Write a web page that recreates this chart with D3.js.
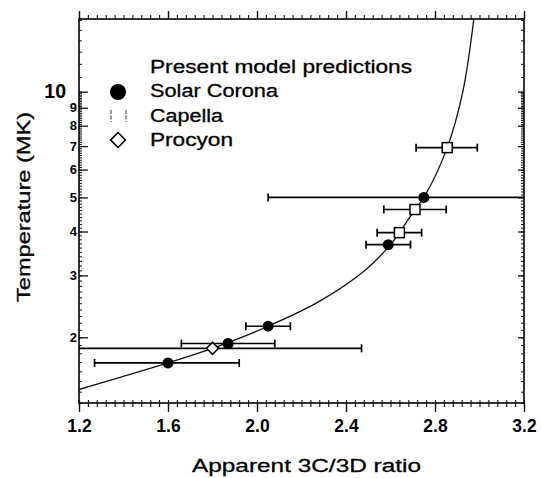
<!DOCTYPE html>
<html><head><meta charset="utf-8">
<script src="https://cdn.jsdelivr.net/npm/d3@7"></script>
<style>
html,body{margin:0;padding:0;background:#fff;}
svg{display:block;font-family:"Liberation Sans",Arial,sans-serif;}
</style></head>
<body><svg id="c" width="541" height="478"></svg>
<script>
// ---- data ----
const xTickValues = [1.2, 1.6, 2.0, 2.4, 2.8, 3.2];
const xTickLabels = ["1.2", "1.6", "2.0", "2.4", "2.8", "3.2"];
const yTickValues = [2, 3, 4, 5, 6, 7, 8, 9, 10];
const yTickLabels = ["2", "3", "4", "5", "6", "7", "8", "9", "10"];

const solarX   = [1.60, 1.87, 2.05, 2.59, 2.75];
const solarY   = [1.69, 1.92, 2.15, 3.67, 5.0];
const solarXLo = [1.27, 1.66, 1.95, 2.49, 2.05];
const solarXHi = [1.92, 2.08, 2.15, 2.69, 3.30];

const capellaX   = [2.64, 2.71, 2.855];
const capellaY   = [3.97, 4.62, 6.93];
const capellaXLo = [2.54, 2.57, 2.715];
const capellaXHi = [2.74, 2.85, 2.99];

const procyonX   = [1.80];
const procyonY   = [1.86];
const procyonXLo = [1.10];
const procyonXHi = [2.47];

const modelX = [1.2, 1.6, 1.8, 1.87, 2.05, 2.28, 2.49, 2.6, 2.64, 2.71, 2.75, 2.855, 2.925, 2.975];
const modelY = [1.42, 1.69, 1.86, 1.93, 2.15, 2.53, 3.12, 3.67, 3.97, 4.62, 5.0, 6.93, 10, 16.2];

const legendTitle = "Present model predictions";
const legendNames = ["Solar Corona", "Capella", "Procyon"];
const xTitle = "Apparent 3C/3D ratio";
const yTitle = "Temperature (MK)";

// ---- layout ----
const L = 79, R = 524, T = 19, B = 403;
const svg = d3.select("#c");
const x = d3.scaleLinear().domain([1.2, 3.2]).range([L, R]);
const y = d3.scaleLog().domain([1.3, 16.1]).range([B, T]);
const FONT = "'Liberation Sans',Arial,sans-serif";

svg.append("defs").append("clipPath").attr("id","clip")
  .append("rect").attr("x",L).attr("y",T).attr("width",R-L).attr("height",B-T);

// frame
svg.append("rect").attr("x",L).attr("y",T).attr("width",R-L).attr("height",B-T)
  .attr("fill","none").attr("stroke","#000").attr("stroke-width",1.6);

const ink = "#111";
const xMinor = d3.range(0, 51).map(i => 1.2 + i*0.04);
// bottom
svg.append("g").attr("transform",`translate(0,${B})`)
  .call(d3.axisBottom(x).tickValues(xMinor).tickSize(4).tickFormat(""))
  .call(g => g.select(".domain").remove())
  .selectAll("line").attr("stroke",ink).attr("stroke-width",1.1);
svg.append("g").attr("transform",`translate(0,${B})`)
  .call(d3.axisBottom(x).tickValues(xMinor).tickSize(-3).tickFormat(""))
  .call(g => g.select(".domain").remove())
  .selectAll("line").attr("stroke",ink).attr("stroke-width",1.1);
const xb = svg.append("g").attr("transform",`translate(0,${B})`)
  .call(d3.axisBottom(x).tickValues(xTickValues).tickSize(9).tickPadding(8)
        .tickFormat((d,i) => xTickLabels[i]));
xb.select(".domain").remove();
xb.selectAll("line").attr("stroke",ink).attr("stroke-width",1.4);
xb.selectAll("text").attr("font-size",17.5).attr("font-weight","bold").attr("fill","#000")
  .attr("font-family",FONT);
// top
svg.append("g").attr("transform",`translate(0,${T})`)
  .call(d3.axisTop(x).tickValues(xMinor).tickSize(4).tickFormat(""))
  .call(g => g.select(".domain").remove())
  .selectAll("line").attr("stroke",ink).attr("stroke-width",1.1);
svg.append("g").attr("transform",`translate(0,${T})`)
  .call(d3.axisTop(x).tickValues(xTickValues).tickSize(8).tickFormat(""))
  .call(g => g.select(".domain").remove())
  .selectAll("line").attr("stroke",ink).attr("stroke-width",1.4);

// y minor ticks
const yMinor = d3.range(13, 100).map(i => i/10).concat(d3.range(10, 17).map(d => d));
svg.append("g").attr("transform",`translate(${L},0)`)
  .call(d3.axisRight(y).tickValues(yMinor).tickSize(3).tickFormat(""))
  .call(g => g.select(".domain").remove())
  .selectAll("line").attr("stroke",ink).attr("stroke-width",1);
svg.append("g").attr("transform",`translate(${R},0)`)
  .call(d3.axisLeft(y).tickValues(yMinor).tickSize(3).tickFormat(""))
  .call(g => g.select(".domain").remove())
  .selectAll("line").attr("stroke",ink).attr("stroke-width",1);
svg.append("g").attr("transform",`translate(${L},0)`)
  .call(d3.axisRight(y).tickValues(yTickValues).tickSize(9).tickFormat(""))
  .call(g => g.select(".domain").remove())
  .selectAll("line").attr("stroke",ink).attr("stroke-width",1.3);
svg.append("g").attr("transform",`translate(${R},0)`)
  .call(d3.axisLeft(y).tickValues(yTickValues).tickSize(6).tickFormat(""))
  .call(g => g.select(".domain").remove())
  .selectAll("line").attr("stroke",ink).attr("stroke-width",1.3);
const yl = svg.append("g").attr("transform",`translate(${L},0)`)
  .call(d3.axisLeft(y).tickValues(yTickValues).tickSize(0).tickPadding(2)
        .tickFormat((d,i) => yTickLabels[i]));
yl.select(".domain").remove();
yl.selectAll("text").attr("fill","#000").attr("font-weight","bold")
  .attr("font-family",FONT)
  .attr("font-size", d => d === 10 ? 19.5 : 13)
  .attr("dx", d => d === 10 ? -11 : 0);

// titles
svg.append("text").attr("x",192).attr("y",472)
  .attr("font-size",18.5).attr("fill","#000").attr("stroke","#000").attr("stroke-width",0.3)
  .attr("textLength",229).attr("lengthAdjust","spacingAndGlyphs").text(xTitle);
svg.append("text").attr("transform","translate(30,302) rotate(-90)")
  .attr("font-size",18.5).attr("fill","#000").attr("stroke","#000").attr("stroke-width",0.3)
  .attr("textLength",190).attr("lengthAdjust","spacingAndGlyphs").text(yTitle);

// plot content
const plot = svg.append("g").attr("clip-path","url(#clip)");

const line = d3.line().x((d,i)=>x(modelX[i])).y((d,i)=>y(modelY[i])).curve(d3.curveCatmullRom);
plot.append("path").datum(modelX).attr("d",line).attr("fill","none")
  .attr("stroke","#111").attr("stroke-width",1.3);

function errBars(xs, ys, lo, hi){
  const g = plot.append("g").attr("stroke","#000").attr("stroke-width",1.7);
  xs.forEach((_,i)=>{
    const yy = y(ys[i]);
    g.append("line").attr("x1",x(lo[i])).attr("x2",x(hi[i])).attr("y1",yy).attr("y2",yy);
    [lo[i],hi[i]].forEach(v=>{
      g.append("line").attr("x1",x(v)).attr("x2",x(v)).attr("y1",yy-4).attr("y2",yy+4);
    });
  });
}
errBars(solarX, solarY, solarXLo, solarXHi);
errBars(capellaX, capellaY, capellaXLo, capellaXHi);
errBars(procyonX, procyonY, procyonXLo, procyonXHi);

plot.selectAll(".sol").data(solarX).join("circle")
  .attr("cx",d=>x(d)).attr("cy",(d,i)=>y(solarY[i])).attr("r",5.5).attr("fill","#000");
plot.selectAll(".cap").data(capellaX).join("rect")
  .attr("x",d=>x(d)-5).attr("y",(d,i)=>y(capellaY[i])-5).attr("width",10).attr("height",10)
  .attr("fill","#fff").attr("stroke","#000").attr("stroke-width",1.5);
plot.selectAll(".pro").data(procyonX).join("path")
  .attr("d",d3.symbol().type(d3.symbolSquare).size(72))
  .attr("transform",(d,i)=>`translate(${x(d)},${y(procyonY[i])}) rotate(45)`)
  .attr("fill","#fff").attr("stroke","#000").attr("stroke-width",1.5);

// legend
const lg = svg.append("g");
const tStyle = s => s.attr("font-size",18).attr("fill","#000").attr("stroke","#000").attr("stroke-width",0.3)
  .attr("lengthAdjust","spacingAndGlyphs");
lg.append("text").attr("x",150).attr("y",73).attr("textLength",262).call(tStyle).text(legendTitle);
const lBase = [97, 122, 146];
const lLen = [128, 73, 83];
legendNames.forEach((n,i)=>{
  lg.append("text").attr("x",150).attr("y",lBase[i]).attr("textLength",lLen[i]).call(tStyle).text(n);
});
lg.append("circle").attr("cx",118).attr("cy",92).attr("r",8).attr("fill","#000");
[111, 126].forEach(xx=>{
  lg.append("line").attr("x1",xx).attr("x2",xx).attr("y1",110).attr("y2",122)
    .attr("stroke","#444").attr("stroke-width",1.1).attr("stroke-dasharray","4,1.5");
});
lg.append("path").attr("d",d3.symbol().type(d3.symbolSquare).size(110))
  .attr("transform",`translate(118,140) rotate(45)`)
  .attr("fill","#fff").attr("stroke","#000").attr("stroke-width",1.6);
</script></body></html>
